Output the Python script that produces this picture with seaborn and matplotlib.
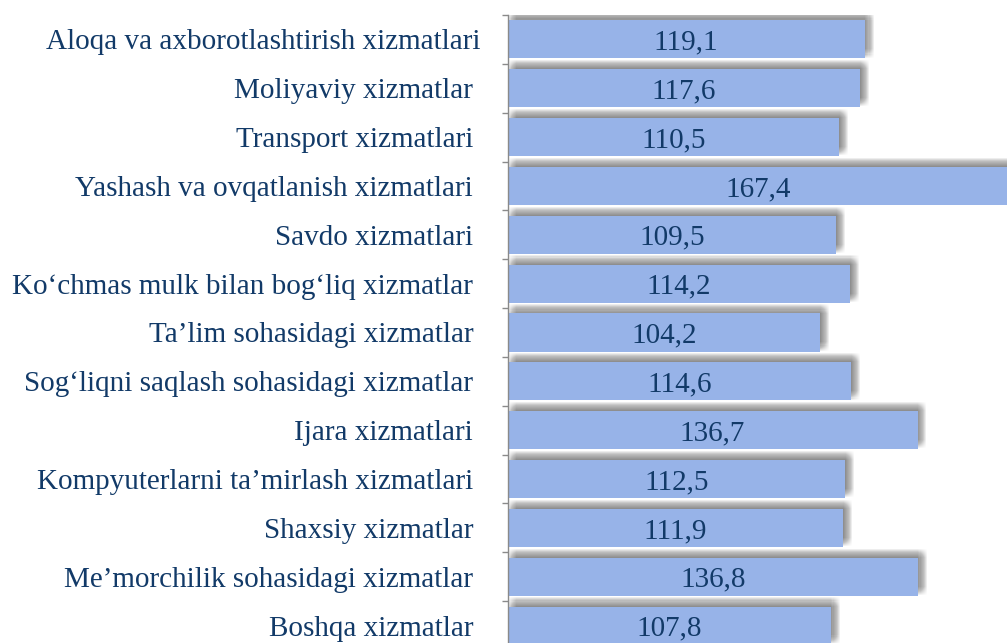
import numpy as np
import pandas as pd
import matplotlib
matplotlib.use("Agg")
import matplotlib.pyplot as plt
import matplotlib.patheffects as pe
import seaborn as sns

categories = [
    "Aloqa va axborotlashtirish xizmatlari",
    "Moliyaviy xizmatlar ",
    "Transport xizmatlari ",
    "Yashash va ovqatlanish xizmatlari ",
    "Savdo xizmatlari ",
    "Ko\u2018chmas mulk bilan bog\u2018liq xizmatlar ",
    "Ta\u2019lim sohasidagi xizmatlar ",
    "Sog\u2018liqni saqlash sohasidagi xizmatlar ",
    "Ijara xizmatlari ",
    "Kompyuterlarni ta\u2019mirlash xizmatlari ",
    "Shaxsiy xizmatlar ",
    "Me\u2019morchilik sohasidagi xizmatlar ",
    "Boshqa xizmatlar ",
]
values = [119.1, 117.6, 110.5, 167.4, 109.5, 114.2, 104.2, 114.6, 136.7, 112.5, 111.9, 136.8, 107.8]
value_labels = ["119,1", "117,6", "110,5", "167,4", "109,5", "114,2", "104,2",
                "114,6", "136,7", "112,5", "111,9", "136,8", "107,8"]

df = pd.DataFrame({"category": categories, "value": values})

sns.set_theme(style="white")
plt.rcParams["font.family"] = ["Liberation Serif", "DejaVu Serif"]

TEXT = "#123a68"
BAR = "#97b3e8"
FS = 21

fig = plt.figure(figsize=(10.07, 6.43), dpi=100)
fig.patch.set_facecolor("white")
ax = fig.add_axes([507.5 / 1007, -7 / 643, 499.5 / 1007, 635 / 643])

sns.barplot(data=df, x="value", y="category", orient="h", color=BAR,
            saturation=1, width=0.78, ax=ax)

# soft shadow (up-right), approximated by stacked offset shadows
effects = []
steps = np.linspace(-3.0, 3.0, 9)
for dx in steps:
    for dy in steps:
        effects.append(pe.SimplePatchShadow(offset=(3.4 + dx, 3.6 + dy),
                                            shadow_rgbFace="#6a6a6a", alpha=0.012))
effects.append(pe.Normal())
for p in ax.patches:
    p.set_path_effects(effects)
    p.set_edgecolor("none")

for i, (v, lab) in enumerate(zip(values, value_labels)):
    ax.text(v / 2, i, lab, ha="center", va="center_baseline", fontsize=FS, color=TEXT)

ax.set_xlim(0, 166.5)
ax.set_ylim(12.5, -0.5)
ax.set_xlabel("")
ax.set_ylabel("")
ax.set_xticks([])

for s in ("top", "right", "bottom"):
    ax.spines[s].set_visible(False)
ax.spines["left"].set_color("#8a8a8a")
ax.spines["left"].set_linewidth(1.0)

ax.set_yticks(np.arange(-0.5, 13, 1), minor=True)
ax.tick_params(axis="y", which="major", length=0, pad=19.5, labelsize=FS,
               labelcolor=TEXT)
ax.tick_params(axis="y", which="minor", length=4, width=1, color="#8a8a8a",
               direction="out", left=True)
ax.set_facecolor("white")

fig.savefig("out.png", dpi=100, facecolor="white")
